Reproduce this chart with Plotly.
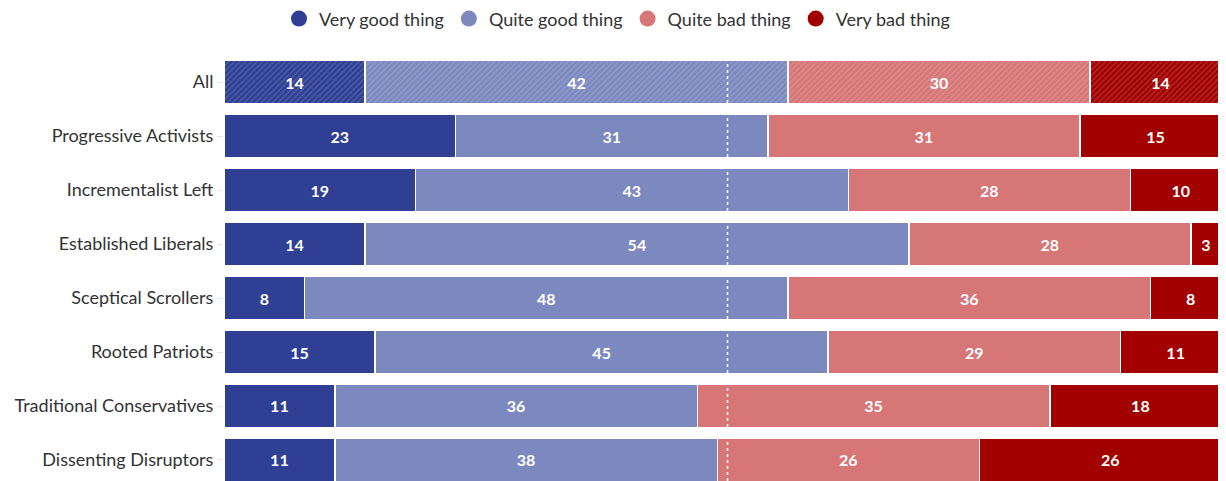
import plotly.graph_objects as go

categories = ["All", "Progressive Activists", "Incrementalist Left", "Established Liberals",
              "Sceptical Scrollers", "Rooted Patriots", "Traditional Conservatives", "Dissenting Disruptors"]
series_names = ["Very good thing", "Quite good thing", "Quite bad thing", "Very bad thing"]
very_good = [14, 23, 19, 14, 8, 15, 11, 11]
quite_good = [42, 31, 43, 54, 48, 45, 36, 38]
quite_bad = [30, 31, 28, 28, 36, 29, 35, 26]
very_bad = [14, 15, 10, 3, 8, 11, 18, 26]
colors = ["#2E3F94", "#7C89BF", "#D67676", "#A30000"]

FONT = "Lato"
fig = go.Figure()
series = [very_good, quite_good, quite_bad, very_bad]
shapes_pat = ["/" if c == "All" else "" for c in categories]
for name, vals, col in zip(series_names, series, colors):
    fig.add_trace(go.Bar(
        y=categories, x=vals, orientation="h", name=name, showlegend=False,
        marker=dict(color=col, line=dict(color="white", width=1.5),
                    pattern=dict(shape=shapes_pat, fillmode="overlay",
                                 fgcolor="rgba(255,255,255,0.45)", size=4, solidity=0.25)),
        text=[str(v) for v in vals], textposition="inside", insidetextanchor="middle",
        textangle=0, textfont=dict(family=FONT, size=16, color="white", weight="bold"),
        hoverinfo="skip",
    ))
    fig.add_trace(go.Scatter(
        x=[None], y=[None], mode="markers", name=name, showlegend=True,
        marker=dict(symbol="circle", size=17, color=col),
    ))

fig.add_shape(type="line", x0=50, x1=50, y0=0, y1=1, xref="x", yref="paper",
              line=dict(color="white", width=1.5, dash="dot"), layer="above")

fig.update_layout(
    width=1218, height=473,
    margin=dict(l=216, r=0, t=47, b=0),
    barmode="stack", bargap=0.19,
    plot_bgcolor="white", paper_bgcolor="white",
    font=dict(family=FONT, size=18, color="#333333"),
    legend=dict(orientation="h", x=0.5, xanchor="center", xref="container",
                y=0.977, yanchor="middle", yref="container", traceorder="normal",
                font=dict(family=FONT, size=18, color="#333333"),
                itemsizing="trace", itemwidth=30, tracegroupgap=0),
    xaxis=dict(range=[0, 99.5], visible=False, fixedrange=True),
    yaxis=dict(range=[7.389, -0.5], showgrid=True, gridcolor="#ececec", gridwidth=1,
               ticks="outside", ticklen=6, tickcolor="#e6e6e6", showline=False,
               tickfont=dict(family=FONT, size=18, color="#333333"), zeroline=False),
)
fig.write_html("out.html")
